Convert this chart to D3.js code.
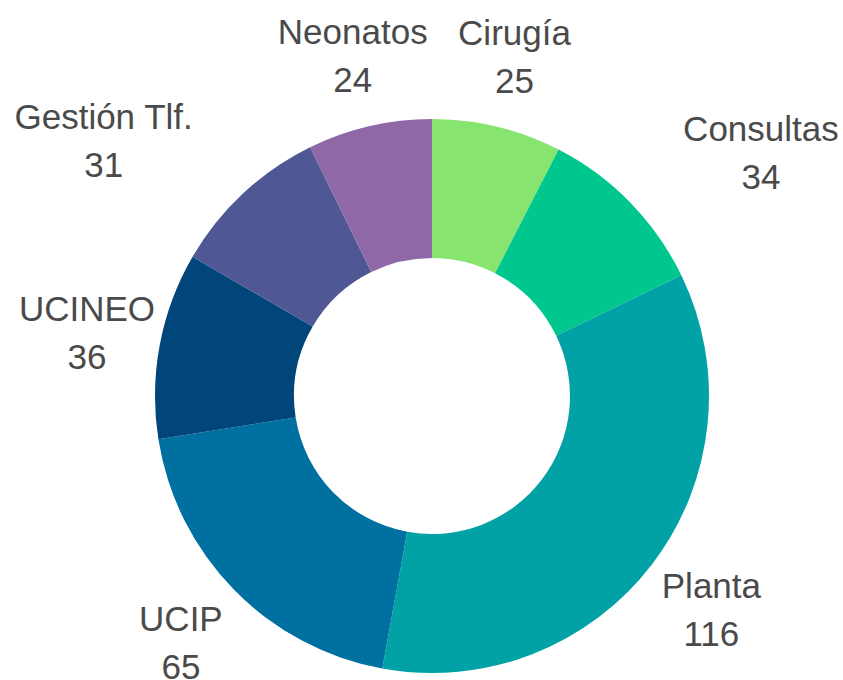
<!DOCTYPE html>
<html><head><meta charset="utf-8">
<script src="https://cdn.jsdelivr.net/npm/d3@7"></script>
<style>html,body{margin:0;padding:0;background:#fff;}</style>
</head><body>
<svg id="c" width="843" height="680"></svg>
<script>
const categories = ["Cirugía","Consultas","Planta","UCIP","UCINEO","Gestión Tlf.","Neonatos"];
const values = [25,34,116,65,36,31,24];
const colors = ["#86e46f","#00c78e","#00a2a5","#0070a0","#00467b","#4f5895","#8f68a8"];

const W = 843, H = 680, cx = 432, cy = 396, R = 277, r0 = 138, rLab = 351, fs = 35;
const svg = d3.select("#c");
const g = svg.append("g").attr("transform", `translate(${cx},${cy})`);
const data = categories.map((c,i)=>({name:c, value:values[i], color:colors[i]}));
const pie = d3.pie().sort(null).value(d=>d.value);
const arcs = pie(data);
const arc = d3.arc().innerRadius(r0).outerRadius(R);
g.selectAll("path").data(arcs).enter().append("path")
  .attr("d", arc).attr("fill", d=>d.data.color);

const lab = g.selectAll("g.lab").data(arcs).enter().append("g").attr("class","lab");
lab.each(function(d){
  const a = (d.startAngle + d.endAngle)/2;
  const x = rLab*Math.sin(a), y = -rLab*Math.cos(a);
  const sel = d3.select(this);
  const t1 = sel.append("text").text(d.data.name);
  const t2 = sel.append("text").text(d.data.value);
  sel.selectAll("text").attr("font-family","'Liberation Sans', Arial, sans-serif")
    .attr("font-size", fs).attr("fill","#4a4a4a");
  const w = Math.max(t1.node().getComputedTextLength(), t2.node().getComputedTextLength());
  // if a centered label box would overlap the ring, anchor it to the side instead
  const top = y - 40, bot = y + 40, left = x - w/2, right = x + w/2;
  const nx = Math.max(left, Math.min(0, right)), ny = Math.max(top, Math.min(0, bot));
  let ax = x;
  if (Math.hypot(nx, ny) < R) ax = x > 0 ? x + w/2 : x - w/2;
  t1.attr("x", ax).attr("y", y - 10).attr("text-anchor", "middle");
  t2.attr("x", ax).attr("y", y + 38).attr("text-anchor", "middle");
});
</script>
</body></html>
